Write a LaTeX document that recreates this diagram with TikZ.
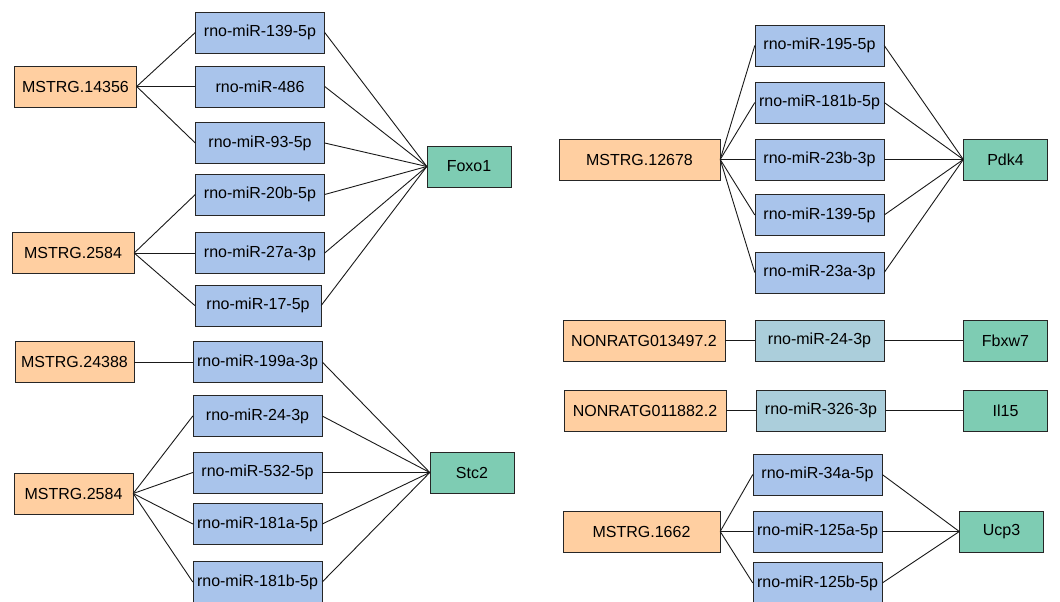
\documentclass[tikz,border=0pt]{standalone}
\usepackage{fontspec}
\setmainfont{Liberation Sans}
\usetikzlibrary{positioning}
\definecolor{lncfill}{HTML}{FFCFA1}
\definecolor{mirfill}{HTML}{A9C4EB}
\definecolor{mirpale}{HTML}{ABCEDB}
\definecolor{genefill}{HTML}{7ECCB3}

\begin{document}
\begin{tikzpicture}[x=1pt, y=-1pt,
		lnc/.style={rectangle, draw=black!85, fill=lncfill, minimum width=122pt, minimum height=41pt, inner sep=0pt, font=\fontsize{16}{19}\selectfont},
		mirna/.style={rectangle, draw=black!85, fill=mirfill, minimum width=129pt, minimum height=41pt, inner sep=0pt, font=\fontsize{16}{19}\selectfont},
		mirpale/.style={mirna, fill=mirpale},
		gene/.style={rectangle, draw=black!85, fill=genefill, minimum width=84pt, minimum height=41pt, inner sep=0pt, font=\fontsize{16}{19}\selectfont},
		link/.style={line width=0.9pt, black!90}
		]
		\clip (0,0) rectangle (1060,602);

		% Foxo1 block
		\node[lnc] (ms14356) at (75.5,86.5) {MSTRG.14356};
		\node[lnc] (ms2584a) at (73,253) {MSTRG.2584};
		\node[mirna] (m139a) at (260,32.5) {rno-miR-139-5p};
		\node[mirna] (m486) at (260,86.5) {rno-miR-486};
		\node[mirna] (m93) at (260,143) {rno-miR-93-5p};
		\node[mirna] (m20b) at (260,194.5) {rno-miR-20b-5p};
		\node[mirna] (m27a) at (260,253) {rno-miR-27a-3p};
		\node[mirna, minimum width=126pt] (m17) at (258,305.5) {rno-miR-17-5p};
		\node[gene] (foxo) at (469,166.5) {Foxo1};

		% Stc2 block
		\node[lnc, minimum width=119pt] (ms24388) at (74.5,362) {MSTRG.24388};
		\node[lnc, minimum width=119pt] (ms2584b) at (73.5,493.5) {MSTRG.2584};
		\node[mirna] (m199a) at (257.5,362) {rno-miR-199a-3p};
		\node[mirna] (m24a) at (257.5,416) {rno-miR-24-3p};
		\node[mirna] (m532) at (257.5,472.5) {rno-miR-532-5p};
		\node[mirna] (m181a) at (257.5,524) {rno-miR-181a-5p};
		\node[mirna] (m181b) at (257.5,582) {rno-miR-181b-5p};
		\node[gene] (stc) at (472,472.5) {Stc2};

		% Pdk4 block
		\node[lnc, minimum width=161pt] (ms12678) at (639.5,159.5) {MSTRG.12678};
		\node[mirna] (m195) at (819.5,45.5) {rno-miR-195-5p};
		\node[mirna] (m181c) at (819.5,102.5) {rno-miR-181b-5p};
		\node[mirna] (m23b) at (819.5,159.5) {rno-miR-23b-3p};
		\node[mirna] (m139b) at (819.5,215) {rno-miR-139-5p};
		\node[mirna] (m23a) at (819.5,272.5) {rno-miR-23a-3p};
		\node[gene] (pdk) at (1005.5,159.5) {Pdk4};

		% single chains
		\node[lnc, minimum width=162pt] (nr13497) at (644,340.5) {NONRATG013497.2};
		\node[mirpale] (m24b) at (819.5,340.5) {rno-miR-24-3p};
		\node[gene] (fbx) at (1005.5,340.5) {Fbxw7};
		\node[lnc, minimum width=162pt] (nr11882) at (645,410.5) {NONRATG011882.2};
		\node[mirpale] (m326) at (821,410.5) {rno-miR-326-3p};
		\node[gene] (il) at (1005.5,410.5) {Il15};

		% Ucp3 block
		\node[lnc, minimum width=157pt] (ms1662) at (641.5,531.5) {MSTRG.1662};
		\node[mirna] (m34a) at (817.5,474.5) {rno-miR-34a-5p};
		\node[mirna] (m125a) at (817.5,531.5) {rno-miR-125a-5p};
		\node[mirna] (m125b) at (817.5,583) {rno-miR-125b-5p};
		\node[gene] (ucp) at (1001.5,531.5) {Ucp3};

		% lncRNA to miRNA
		\draw[link] (ms14356.east) -- (m139a.west);
		\draw[link] (ms14356.east) -- (m486.west);
		\draw[link] (ms14356.east) -- (m93.west);
		\draw[link] (ms2584a.east) -- (m20b.west);
		\draw[link] (ms2584a.east) -- (m27a.west);
		\draw[link] (ms2584a.east) -- (m17.west);
		\draw[link] (ms24388.east) -- (m199a.west);
		\draw[link] (ms2584b.east) -- (m24a.west);
		\draw[link] (ms2584b.east) -- (m532.west);
		\draw[link] (ms2584b.east) -- (m181a.west);
		\draw[link] (ms2584b.east) -- (m181b.west);
		\draw[link] (ms12678.east) -- (m195.west);
		\draw[link] (ms12678.east) -- (m181c.west);
		\draw[link] (ms12678.east) -- (m23b.west);
		\draw[link] (ms12678.east) -- (m139b.west);
		\draw[link] (ms12678.east) -- (m23a.west);
		\draw[link] (nr13497) -- (m24b);
		\draw[link] (nr11882) -- (m326);
		\draw[link] (ms1662.east) -- (m34a.west);
		\draw[link] (ms1662.east) -- (m125a.west);
		\draw[link] (ms1662.east) -- (m125b.west);

		% miRNA to target gene
		\draw[link] (m139a.east) -- (foxo.west);
		\draw[link] (m486.east) -- (foxo.west);
		\draw[link] (m93.east) -- (foxo.west);
		\draw[link] (m20b.east) -- (foxo.west);
		\draw[link] (m27a.east) -- (foxo.west);
		\draw[link] (m17.east) -- (foxo.west);
		\draw[link] (m199a.east) -- (stc.west);
		\draw[link] (m24a.east) -- (stc.west);
		\draw[link] (m532.east) -- (stc.west);
		\draw[link] (m181a.east) -- (stc.west);
		\draw[link] (m181b.east) -- (stc.west);
		\draw[link] (m195.east) -- (pdk.west);
		\draw[link] (m181c.east) -- (pdk.west);
		\draw[link] (m23b.east) -- (pdk.west);
		\draw[link] (m139b.east) -- (pdk.west);
		\draw[link] (m23a.east) -- (pdk.west);
		\draw[link] (m24b) -- (fbx);
		\draw[link] (m326) -- (il);
		\draw[link] (m34a.east) -- (ucp.west);
		\draw[link] (m125a.east) -- (ucp.west);
		\draw[link] (m125b.east) -- (ucp.west);

	\end{tikzpicture}
\end{document}
